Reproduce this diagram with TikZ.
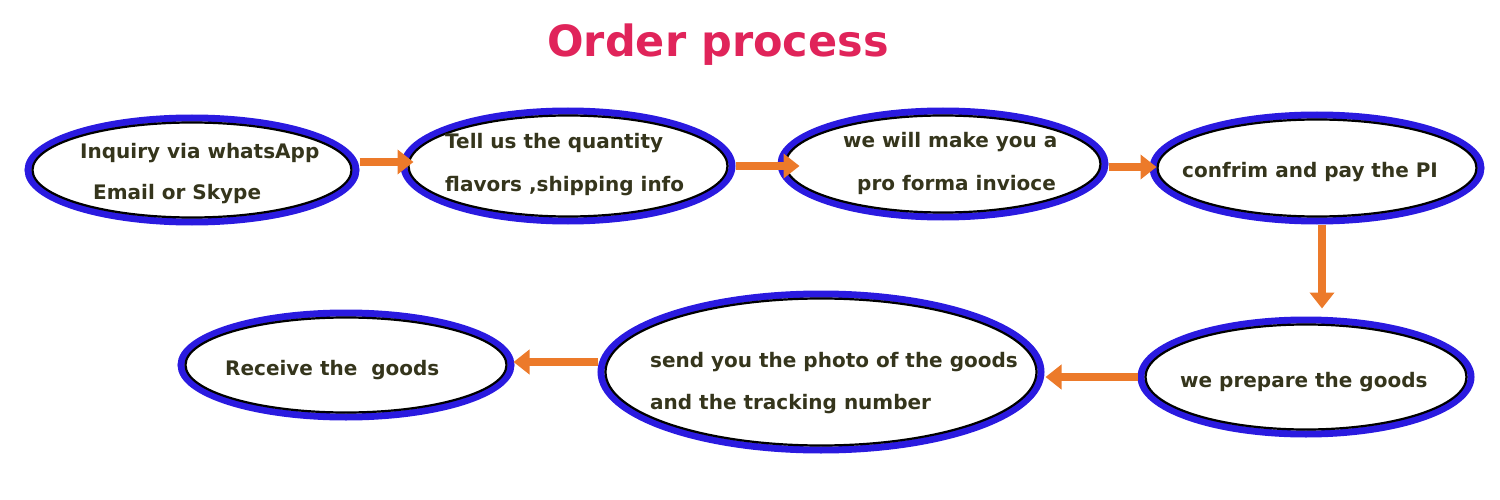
\documentclass[tikz,border=0pt]{standalone}
\usepackage{fontspec}
\setmainfont{DejaVu Sans}
\usetikzlibrary{shapes.geometric,arrows.meta}
\definecolor{txt}{HTML}{35351C}
\definecolor{ttl}{HTML}{E0245A}
\definecolor{rim}{HTML}{2A1AE0}
\definecolor{arr}{HTML}{EC7A2A}
\tikzset{
  oval/.style={ellipse,draw=rim,line width=7pt,fill=white,inner sep=0pt},
  ovalin/.style={ellipse,draw=black,line width=2.2pt,inner sep=0pt},
  lbl/.style={anchor=base west,text=txt,font=\bfseries\fontsize{20}{22}\selectfont,inner sep=0pt},
  flow/.style={draw=arr,line width=8pt,-{Triangle[length=16pt,width=24pt]}}
}
\begin{document}
\begin{tikzpicture}[x=1pt,y=-1pt]
\useasboundingbox (0,0) rectangle (1500,500);
\node[text=ttl,font=\bfseries\fontsize{43}{48}\selectfont] (title) at (718,45) {Order process};
\foreach \n/\x/\y/\w/\h in {e1/192/170/328/104,e2/568/166/328/110,e3/943/164/324/106,e4/1317/168/328/106,e5/1306/377/330/114,e6/821/372/440/156,e7/346/365/330/104}{
  \node[oval,minimum width=\w pt,minimum height=\h pt] (\n) at (\x,\y) {};
  \node[ovalin,minimum width=\w pt-9pt,minimum height=\h pt-9pt] (\n i) at (\x,\y) {};
}
\coordinate (a1) at ([yshift=8pt]e1.east);
\draw[flow] (a1) -- ++(54,0);
\draw[flow] (e2.east) -- ++(64,0);
\draw[flow] ([yshift=-3pt]e3.east) -- ++(48,0);
\draw[flow] ([xshift=5pt]e4.south) -- ++(0,84);
\draw[flow] (e5.west) -- ++(-92,0);
\draw[flow] ([yshift=10pt]e6.west) -- ++(-84,0);
\node[lbl] (t1a) at (80,159) {Inquiry via whatsApp};
\node[lbl] (t1b) at (93,200) {Email or Skype};
\node[lbl] (t2a) at (445,149) {Tell us the quantity};
\node[lbl] (t2b) at (445,192) {flavors ,shipping info};
\node[lbl] (t3a) at (843,148) {we will make you a};
\node[lbl] (t3b) at (857,190) {pro forma invioce};
\node[lbl] (t4) at (1182,178) {confrim and pay the PI};
\node[lbl] (t5) at (1180,387) {we prepare the goods};
\node[lbl] (t6a) at (650,367) {send you the photo of the goods};
\node[lbl] (t6b) at (650,409) {and the tracking number};
\node[lbl] (t7) at (225,375) {Receive the\ \ goods};
\end{tikzpicture}
\end{document}
